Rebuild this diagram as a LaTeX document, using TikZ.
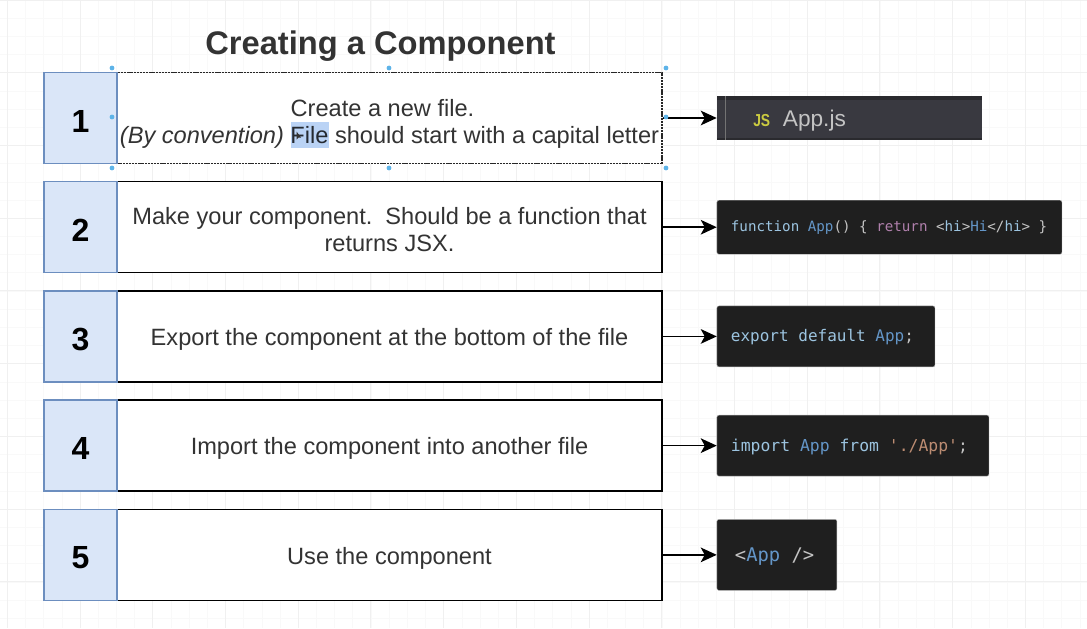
\documentclass[tikz,border=0pt]{standalone}
\usepackage{fontspec}
\setmainfont{Liberation Sans}
\setmonofont{DejaVu Sans Mono}
\usepackage{graphicx}
\usepackage{tikz}
\usetikzlibrary{arrows.meta,positioning}
\definecolor{numfill}{HTML}{DAE6F8}
\definecolor{numline}{HTML}{6C8EBF}
\definecolor{bodytext}{HTML}{333333}
\definecolor{codebg}{HTML}{1F1F1F}
\definecolor{tabbg}{HTML}{393940}
\definecolor{tabedge}{HTML}{2A2A2E}
\definecolor{kwblue}{HTML}{9CC4E0}
\definecolor{idblue}{HTML}{6496C8}
\definecolor{kwpurple}{HTML}{B080AC}
\definecolor{strtan}{HTML}{BC8C72}
\definecolor{plaingray}{HTML}{C4C4C4}
\definecolor{jsyellow}{HTML}{CBCB41}
\definecolor{handleblue}{HTML}{5DB3E8}
\definecolor{selblue}{HTML}{BAD3F5}
\newcommand{\kw}[1]{\textcolor{kwblue}{#1}}
\newcommand{\idn}[1]{\textcolor{idblue}{#1}}
\newcommand{\gap}{\hspace{.602em}}
\tikzset{
  numbox/.style={draw=numline,fill=numfill,line width=1.1pt,minimum width=54.75pt,
    minimum height=68.25pt,inner sep=0pt,text height=21pt,font=\fontsize{24}{24}\selectfont\bfseries},
  stepbox/.style={draw=black,line width=1.1pt,fill=white,minimum width=408.75pt,
    minimum height=68.25pt,inner sep=0pt,align=center,text=bodytext,text depth=.5pt,
    font=\fontsize{17.7}{20.5}\selectfont},
  codebox/.style={fill=codebg,draw=gray!60,line width=.3pt,rounded corners=1.5pt,
    inner xsep=10.5pt,inner ysep=0pt,align=left,text=plaingray,text depth=1pt},
  flow/.style={-{Stealth[length=12pt,width=11pt,inset=3pt]},line width=1.1pt},
  handle/.style={circle,fill=handleblue,inner sep=0pt,minimum size=3.6pt},
  gridminor/.style={black!2.5,line width=.4pt},
  gridmajor/.style={black!6,line width=.5pt},
}
\begin{document}
\begin{tikzpicture}[x=0.75pt,y=-0.75pt,node distance=12.56pt and 40.5pt]
\useasboundingbox (0,0) rectangle (1087,628);
% grid
\foreach \i in {0,...,59} \draw[gridminor] (\i*18.18+7.3,0) -- (\i*18.18+7.3,628);
\foreach \j in {0,...,34} \draw[gridminor] (0,\j*18.18) -- (1087,\j*18.18);
\foreach \i in {0,...,14} \draw[gridmajor] (\i*72.7+7.3,0) -- (\i*72.7+7.3,628);
\foreach \j in {0,...,8} \draw[gridmajor] (0,\j*72.7) -- (1087,\j*72.7);
\node[font=\fontsize{24.5}{24.5}\selectfont\bfseries,text=bodytext] (title) at (380.5,46) {Creating a Component};
% steps
\node[stepbox,draw=black!85,dash pattern=on .8pt off .3pt] (t1) at (389.5,118) {\rule{0pt}{18.4pt}Create a new file.\hspace*{10.5pt}\\
  \textit{(By convention)} File should start with a capital letter};
\node[stepbox,below=of t1] (t2) {\rule{0pt}{16.2pt}Make your component.\ \ Should be a function that\\returns JSX.};
\node[stepbox,below=of t2,text height=14.3pt] (t3) {Export the component at the bottom of the file};
\node[stepbox,below=of t3,text height=14.3pt] (t4) {Import the component into another file};
\node[stepbox,below=of t4,text height=14.3pt] (t5) {Use the component};
\node[numbox,left=-1.1pt of t1] (n1) {1};
\node[numbox,left=-1.1pt of t2] (n2) {2};
\node[numbox,left=-1.1pt of t3] (n3) {3};
\node[numbox,left=-1.1pt of t4] (n4) {4};
\node[numbox,left=-1.1pt of t5] (n5) {5};
% text selection, over the box fill
\begin{scope}[blend mode=multiply]
\node[fill=selblue,minimum width=28.5pt,minimum height=19.5pt,inner sep=0pt] (sel) at (309.5,135) {};
\end{scope}
\fill[bodytext] (296.5,131.5) -- (296.5,139.5) -- (298.5,137.5) -- (301,137.5) -- cycle;
% code
\node[codebox,fill=tabbg,draw=none,rounded corners=0pt,right=of t1,text width=177.75pt,minimum height=33pt,text depth=0pt,
  font=\fontsize{17}{17}\selectfont] (c1) {\hspace*{16.75pt}\textcolor{jsyellow}{\fontsize{13}{13}\selectfont\bfseries\scalebox{.8}[1]{JS}}\hspace{9.5pt}App.js};
\node[codebox,right=of t2,text width=237.75pt,minimum height=40.5pt,font=\ttfamily\fontsize{10.65}{12}\selectfont] (c2)
  {\kw{function}\gap\idn{App}()\gap\{\gap\textcolor{kwpurple}{return}\gap<\kw{hi}>\idn{Hi}</\kw{hi}>\gap\}};
\node[codebox,right=of t3,text width=142.5pt,minimum height=45.75pt,font=\ttfamily\fontsize{12}{14}\selectfont] (c3)
  {\kw{export}\gap\kw{default}\gap\idn{App};};
\node[codebox,right=of t4,text width=183pt,minimum height=45.75pt,font=\ttfamily\fontsize{12.3}{14}\selectfont] (c4)
  {\kw{import}\gap\idn{App}\gap\kw{from}\gap\textcolor{strtan}{'./App'};};
\node[codebox,right=of t5,text width=69pt,minimum height=53.25pt,font=\ttfamily\fontsize{14.1}{16}\selectfont] (c5)
  {\hspace*{3pt}<\idn{App}\gap/>};
\fill[tabedge] (c1.north west) rectangle ([yshift=-3pt]c1.north east);
\fill[tabedge] (c1.south west) rectangle ([yshift=2pt]c1.south east);
\draw[black!55,line width=1pt] ([xshift=6.5pt]c1.north west) -- ([xshift=6.5pt]c1.south west);
% arrows
\foreach \k in {1,...,5} \draw[flow] (t\k) -- (c\k);
% handles
\foreach \hx/\hy [count=\h] in {112/68,389/68,666/68,112/117,666/117,112/168,389/168,666/168}
  \node[handle] (h\h) at (\hx,\hy) {};
\end{tikzpicture}
\end{document}
